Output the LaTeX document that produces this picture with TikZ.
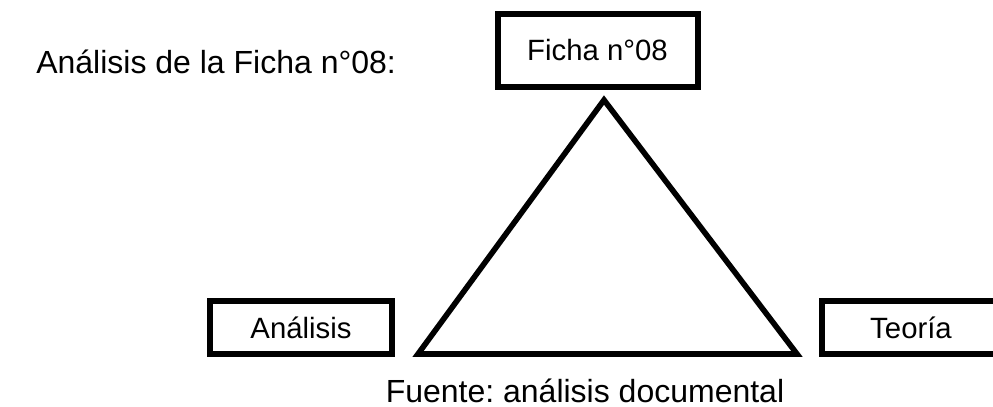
\documentclass[tikz,border=0pt]{standalone}
\usepackage{fontspec}
\setmainfont{Liberation Sans}
\usepackage{tikz}
\frenchspacing

\tikzset{
  caja/.style={draw, line width=4.5pt, inner sep=0pt},
  texto/.style={font=\fontsize{24}{28}\selectfont, inner sep=0pt}
}

\begin{document}
\begin{tikzpicture}[x=0.75pt,y=-0.75pt]

  \def\xmax{993}
  \def\ymax{407}

  % page
  \clip (0,0) rectangle (\xmax,\ymax);

  % title
  \node[texto, anchor=base west] (titulo) at (36,73) {Análisis de la Ficha n°08:};

  % boxes
  \node[caja, minimum width=150pt, minimum height=54.75pt,
    font=\fontsize{22}{26}\selectfont] (ficha) at (597.5,50.5) {Ficha n°08};
  \node[caja, minimum width=136.5pt, minimum height=39.75pt,
    font=\fontsize{22}{26}\selectfont] (analisis) at (301,327.5) {Análisis};
  \node[caja, minimum width=133.5pt, minimum height=39.75pt,
    font=\fontsize{22}{26}\selectfont] (teoria) at (911,327.5) {Teoría};

  % triangle
  \coordinate (arriba) at (604,100);
  \coordinate (izq) at (418,354);
  \coordinate (der) at (797,354);
  \draw[line width=4.2pt, line join=miter] (arriba) -- (izq) -- (der) -- cycle;

  % source
  \node[texto, anchor=base] (fuente) at (585,402) {Fuente: análisis documental};

\end{tikzpicture}
\end{document}
